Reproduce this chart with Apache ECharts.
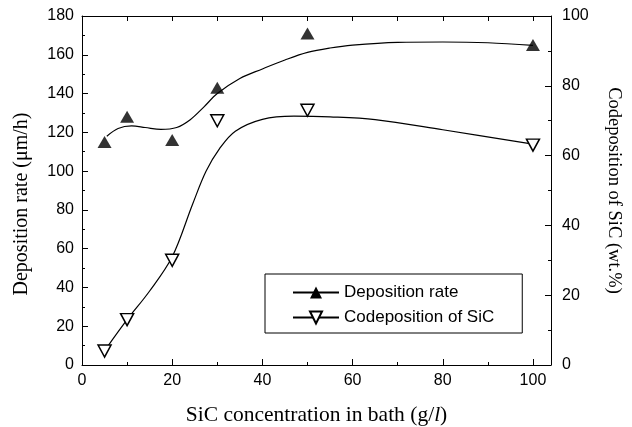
<!DOCTYPE html>
<html>
<head>
<meta charset="utf-8">
<title>Deposition rate vs SiC concentration</title>
<script src="https://cdn.jsdelivr.net/npm/echarts@6/dist/echarts.min.js"></script>
<style>
  html, body { margin: 0; padding: 0; background: #fff; }
  #chart { width: 632px; height: 427px; }
</style>
</head>
<body>
<div id="chart"></div>
<script>
// measured points
var concX = [5, 10, 20, 30, 50, 100];
var depRate = [115, 128, 116, 143, 171, 165];
var codepSiC = [4, 13, 30, 70, 73, 63];

// fitted curves
var depFitX = [5.5, 8, 11, 14, 17.5, 21, 24, 27, 30, 35, 40, 45, 50, 55, 60, 70, 80, 90, 100];
var depFitY = [118, 122, 123.3, 122.5, 121.5, 122.5, 126.5, 133, 140, 147.8, 152.7, 157.3, 161.2, 163.5, 165, 166.4, 166.6, 166.2, 164.8];
var codepFitX = [5.5, 10, 15, 20, 24.5, 27.5, 30.5, 34, 40, 47, 55, 65, 80, 100];
var codepFitY = [5, 13, 21.2, 31, 46, 55.5, 62, 67, 70.4, 71.3, 71.1, 70.3, 67.4, 63.3];

var sans = "Liberation Sans";
var serif = "Liberation Serif";

function pairs(xs, ys) {
  var out = [];
  for (var i = 0; i < xs.length; i++) {
    out.push([xs[i], ys[i]]);
  }
  return out;
}

var myChart = echarts.init(document.getElementById("chart"));

// onZero off, otherwise the right axis line/ticks jump to x=0
function line(show) {
  return { show: show, onZero: false, lineStyle: { color: "#000", width: 1 } };
}

function ticks(len) {
  return { show: true, inside: true, length: len, lineStyle: { color: "#000", width: 1 } };
}

function minor(len) {
  return { show: true, splitNumber: 2, length: len, lineStyle: { color: "#000", width: 1 } };
}

var options = {
  animation: false,
  grid: { left: 82, right: 81, top: 16, bottom: 62, outerBoundsMode: "none" },
  legend: {
    orient: "vertical",
    left: 265,
    top: 274,
    data: ["Deposition rate", "Codeposition of SiC"],
    itemWidth: 46,
    itemHeight: 15,
    itemGap: 8,
    padding: [10, 28, 7, 27],
    borderColor: "#000",
    borderWidth: 1,
    textStyle: { fontFamily: sans, fontSize: 17, color: "#000" },
  },
  // left axis title, placed by hand (sits a bit below the axis middle)
  graphic: [
    {
      type: "text",
      x: 22,
      y: 204,
      rotation: Math.PI / 2,
      style: {
        text: "Deposition rate (μm/h)",
        fontFamily: serif,
        fontSize: 20,
        fill: "#000",
        align: "center",
        verticalAlign: "middle",
      },
    },
  ],
  xAxis: [
    {
      // main bottom axis, major ticks + labels
      type: "value",
      min: 0,
      max: 104,
      interval: 20,
      position: "bottom",
      axisLine: line(true),
      axisTick: ticks(6),
      axisLabel: {
        color: "#000",
        fontFamily: sans,
        fontSize: 16,
        margin: 8,
        showMaxLabel: false,
      },
      splitLine: { show: false },
      name: "SiC concentration in bath (g/{i|l})",
      nameLocation: "middle",
      nameGap: 39,
      nameTextStyle: {
        fontFamily: serif,
        fontSize: 21.5,
        color: "#000",
        rich: {
          i: { fontFamily: serif, fontSize: 21.5, fontStyle: "italic", color: "#000" },
        },
      },
    },
    {
      // minor ticks on the bottom
      type: "value",
      min: 0,
      max: 104,
      interval: 10,
      position: "bottom",
      axisLine: line(false),
      axisTick: ticks(3),
      axisLabel: { show: false },
      splitLine: { show: false },
    },
    {
      // top frame with ticks
      type: "value",
      min: 0,
      max: 104,
      interval: 10,
      position: "top",
      axisLine: line(true),
      axisTick: ticks(5),
      axisLabel: { show: false },
      splitLine: { show: false },
    },
  ],
  yAxis: [
    {
      type: "value",
      min: 0,
      max: 180,
      interval: 20,
      position: "left",
      axisLine: line(true),
      axisTick: ticks(6),
      minorTick: minor(3),
      axisLabel: { color: "#000", fontFamily: sans, fontSize: 16, margin: 8 },
      splitLine: { show: false },
      minorSplitLine: { show: false },
    },
    {
      type: "value",
      min: 0,
      max: 100,
      interval: 20,
      position: "right",
      axisLine: line(true),
      axisTick: ticks(6),
      minorTick: minor(3),
      axisLabel: { color: "#000", fontFamily: sans, fontSize: 16, margin: 11 },
      splitLine: { show: false },
      minorSplitLine: { show: false },
      name: "Codeposition of SiC (wt.%)",
      nameLocation: "middle",
      nameGap: 53,
      nameRotate: -90,
      nameTextStyle: { fontFamily: serif, fontSize: 18.5, color: "#000" },
    },
  ],
  series: [
    {
      name: "Deposition rate",
      type: "line",
      xAxisIndex: 0,
      yAxisIndex: 0,
      smooth: 0.35,
      symbol: "triangle",
      showSymbol: false,
      lineStyle: { color: "#000", width: 1.2 },
      itemStyle: { color: "#000" },
      data: pairs(depFitX, depFitY),
      z: 2,
    },
    {
      name: "Codeposition of SiC",
      type: "line",
      xAxisIndex: 0,
      yAxisIndex: 1,
      smooth: 0.35,
      symbol: "triangle",
      symbolRotate: 180,
      showSymbol: false,
      lineStyle: { color: "#000", width: 1.2 },
      itemStyle: { color: "#fff", borderColor: "#000", borderWidth: 1.5 },
      data: pairs(codepFitX, codepFitY),
      z: 2,
    },
    {
      name: "dep points",
      type: "scatter",
      xAxisIndex: 0,
      yAxisIndex: 0,
      symbol: "triangle",
      symbolSize: [14, 12],
      itemStyle: { color: "#000" },
      data: pairs(concX, depRate),
      z: 3,
    },
    {
      name: "codep points",
      type: "scatter",
      xAxisIndex: 0,
      yAxisIndex: 1,
      symbol: "triangle",
      symbolRotate: 180,
      symbolSize: [13, 12],
      itemStyle: { color: "#fff", borderColor: "#000", borderWidth: 1.5, opacity: 1 },
      data: pairs(concX, codepSiC),
      z: 3,
    },
  ],
};

myChart.setOption(options);
window.addEventListener("resize", function () {
  myChart.resize();
});
</script>
</body>
</html>
